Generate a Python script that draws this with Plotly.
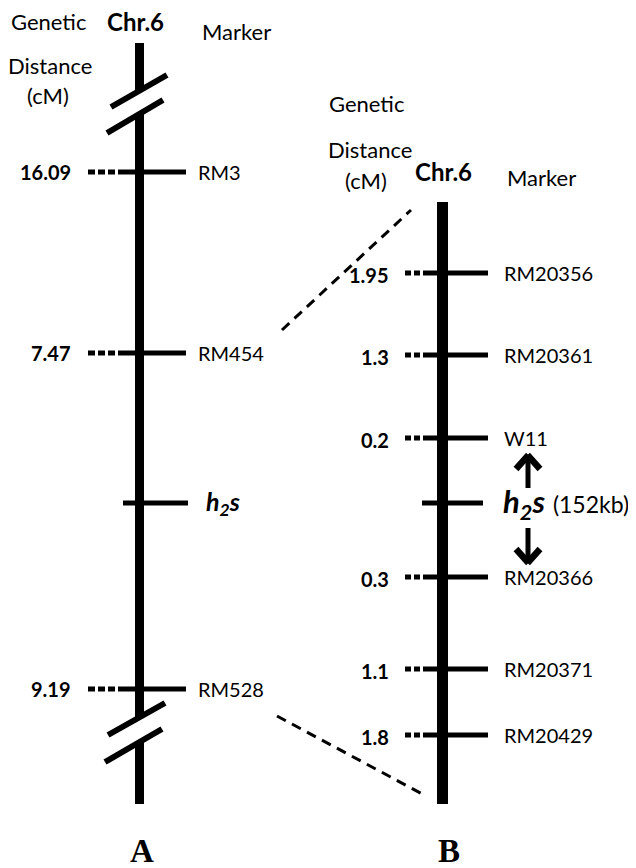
import plotly.graph_objects as go

# ---------------- data ----------------
markers_a = ["RM3", "RM454", "h2s", "RM528"]
dist_a = ["16.09", "7.47", "", "9.19"]
pos_a = [172, 353, 503, 689]

markers_b = ["RM20356", "RM20361", "W11", "h2s", "RM20366", "RM20371", "RM20429"]
dist_b = ["1.95", "1.3", "0.2", "", "0.3", "1.1", "1.8"]
pos_b = [273, 355, 438, 503, 577, 669, 735]

panel_labels = ["A", "B"]
headers = ["Genetic", "Distance", "(cM)", "Chr.6", "Marker"]
gene_note = "(152kb)"

# ---------------- styling ----------------
SANS = "Lato, 'Open Sans', sans-serif"
SERIF = "'Liberation Serif', 'DejaVu Serif', serif"
BLACK = "black"
PAGE_OFF = 8  # page body margin compensation

fig = go.Figure()
shapes = []
ann = []


def line(x0, y0, x1, y1, w, dash="solid"):
    shapes.append(dict(type="line", xref="x", yref="y", x0=x0, y0=y0, x1=x1, y1=y1,
                       line=dict(color=BLACK, width=w, dash=dash)))


def text(x, y, s, size, anchor="left", bold=False, family=SANS):
    if bold:
        s = "<b>" + s + "</b>"
    ann.append(dict(x=x, y=y, xref="x", yref="y", text=s, showarrow=False,
                    xanchor=anchor, yanchor="middle",
                    font=dict(family=family, size=size, color=BLACK)))


def gene(s):
    return "<b><i>h<sub>2</sub>s</i></b>" if s == "h2s" else s


def arrow(x, y_tail, y_tip, w=5):
    # shaft + chevron head
    d = 1 if y_tip > y_tail else -1
    line(x, y_tail, x, y_tip - d * 3, w)
    line(x - 12, y_tip - d * 16, x + 0.5, y_tip - d * 2, w + 1.5)
    line(x + 12, y_tip - d * 16, x - 0.5, y_tip - d * 2, w + 1.5)


# ---------- Panel A ----------
ax_c = 139.5
line(ax_c, 43, ax_c, 91, 9)
line(ax_c, 113, ax_c, 717, 9)
line(ax_c, 742, ax_c, 804, 9)
line(111, 107, 167, 75, 6)
line(107, 133, 163, 100, 6)
line(108, 735, 165, 703, 6)
line(105, 762, 162, 729, 6)

for name, d, y in zip(markers_a, dist_a, pos_a):
    if name == "h2s":
        line(123, y, 188, y, 5)
        text(204, y, gene(name), 25)
    else:
        line(88, y, 120, y, 5, dash="7px,3px")
        line(120, y, 186, y, 5)
        text(196, y, name, 20)
        text(73, y, d, 20, anchor="right", bold=True)

text(9, 21, headers[0], 22)
text(50, 65, headers[1], 22, anchor="center")
text(48, 95, headers[2], 22, anchor="center")
text(135, 21, headers[3], 24, anchor="center", bold=True)
text(236, 31, headers[4], 22, anchor="center")
text(ax_c + 2, 851, "<b>" + panel_labels[0] + "</b>", 33, anchor="center", family=SERIF)

# ---------- Panel B ----------
bx_c = 442.5
line(bx_c, 202, bx_c, 804, 11)
for name, d, y in zip(markers_b, dist_b, pos_b):
    if name == "h2s":
        line(422, y, 483, y, 5)
        ann.append(dict(x=501, y=y, xref="x", yref="y",
                        text=gene(name) + " <span style='font-size:23px'>" + gene_note + "</span>",
                        showarrow=False, xanchor="left", yanchor="middle",
                        font=dict(family=SANS, size=31, color=BLACK)))
        arrow(528, y - 15, y - 50)
        arrow(528, y + 25, y + 62)
    else:
        line(405, y, 425, y, 5, dash="6px,3px")
        line(425, y, 488, y, 5)
        text(502, y, name, 20)
        text(391, y + 2, d, 20, anchor="right", bold=True)

text(327, 103, headers[0], 22)
text(370, 149, headers[1], 22, anchor="center")
text(366, 180, headers[2], 22, anchor="center")
text(443, 171, headers[3], 24, anchor="center", bold=True)
text(541, 177, headers[4], 22, anchor="center")
text(bx_c + 6, 851, "<b>" + panel_labels[1] + "</b>", 33, anchor="center", family=SERIF)

line(282, 330, 411, 210, 3, dash="10px,7px")
line(277, 716, 426, 796, 3, dash="10px,7px")

fig.update_layout(
    width=636 - PAGE_OFF, height=868 - PAGE_OFF,
    margin=dict(l=0, r=0, t=0, b=0),
    paper_bgcolor="white", plot_bgcolor="white",
    xaxis=dict(range=[PAGE_OFF, 636], visible=False, fixedrange=True),
    yaxis=dict(range=[868, PAGE_OFF], visible=False, fixedrange=True),
    shapes=shapes, annotations=ann, showlegend=False,
)
fig.write_html("out.html")
